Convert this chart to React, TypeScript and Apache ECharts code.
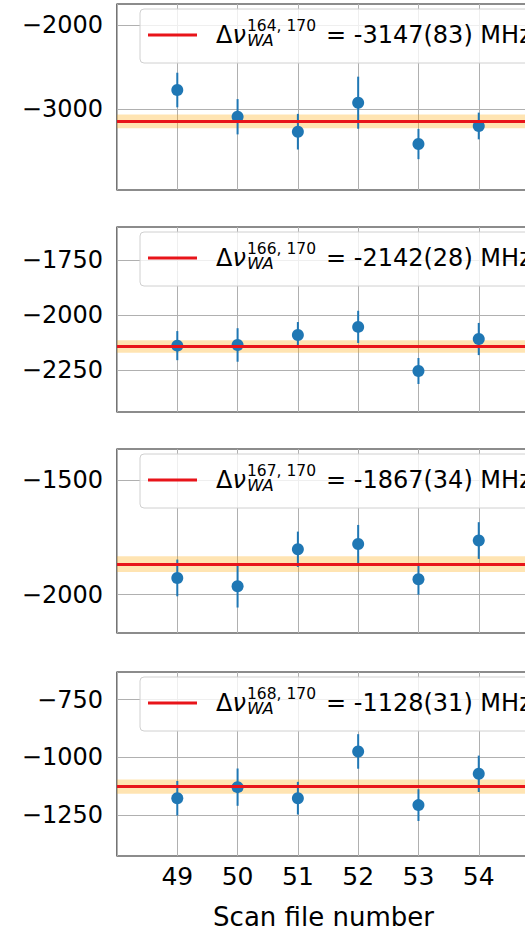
import React, { useEffect, useRef } from 'react';
import * as echarts from 'echarts';

// ---- data ----
const scans = [49, 50, 51, 52, 53, 54];
const pairLabels = ['164, 170', '166, 170', '167, 170', '168, 170'];
const meanValues = [-3147, -2142, -1867, -1128];
const meanErrors = [83, 28, 34, 31];

const shift164 = [-2774, -3092, -3270, -2925, -3417, -3202];
const err164 = [206, 210, 212, 310, 180, 159];
const shift166 = [-2138, -2135, -2090, -2053, -2253, -2108];
const err166 = [66, 76, 59, 73, 59, 73];
const shift167 = [-1927, -1963, -1802, -1779, -1933, -1764];
const err167 = [80, 93, 77, 83, 67, 80];
const shift168 = [-1178, -1130, -1178, -975, -1208, -1072];
const err168 = [75, 81, 71, 75, 69, 79];

const yMins = [-3964, -2439, -2167, -1429];
const yMaxs = [-1750, -1600, -1365, -630];
const yTicks = [
  [-3000, -2000],
  [-2250, -2000, -1750],
  [-2000, -1500],
  [-1250, -1000, -750],
];
const xMin = 48;
const xMax = 54.85;
const xTitle = 'Scan file number';
const unitText = 'MHz';

const shifts = [shift164, shift166, shift167, shift168];
const errs = [err164, err166, err167, err168];

// ---- layout ----
const panelTops = [4, 227, 449, 672];
const panelHeights = [186, 185, 184, 184];
const gridLeft = 117;
const gridWidth = 413;
const FONT = 'DejaVu Sans';
const BLUE = '#1f77b4';
const RED = '#e8141a';

export default function App() {
  const ref = useRef<HTMLDivElement>(null);

  useEffect(() => {
    if (!ref.current) return;
    const chart = echarts.init(ref.current, undefined, { renderer: 'svg' });

    const grids: any[] = [];
    const xAxes: any[] = [];
    const yAxes: any[] = [];
    const series: any[] = [];
    const graphics: any[] = [];

    for (let i = 0; i < 4; i++) {
      const top = panelTops[i];
      grids.push({
        left: gridLeft,
        top,
        width: gridWidth,
        height: panelHeights[i],
        show: true,
        borderColor: '#1a1a1a',
        borderWidth: 1.2,
        backgroundColor: '#fff',
        containLabel: false,
        outerBoundsMode: 'none',
      });
      xAxes.push({
        type: 'value',
        gridIndex: i,
        min: xMin,
        max: xMax,
        interval: 1,
        axisLine: { show: false },
        axisTick: { show: false },
        splitLine: { show: true, lineStyle: { color: '#b0b0b0', width: 1 } },
        axisLabel: {
          show: i === 3,
          showMaxLabel: false,
          showMinLabel: false,
          margin: 8,
          color: '#000',
          fontFamily: FONT,
          fontSize: 25,
          formatter: (v: number) => (Number.isInteger(v) && v > xMin ? String(v) : ''),
        },
        name: i === 3 ? xTitle : '',
        nameLocation: 'middle',
        nameGap: 48,
        nameTextStyle: { color: '#000', fontFamily: FONT, fontSize: 26 },
      });
      yAxes.push({
        type: 'value',
        gridIndex: i,
        min: yMins[i],
        max: yMaxs[i],
        axisLine: { show: false },
        axisTick: { show: false, customValues: yTicks[i] },
        splitLine: { show: true, lineStyle: { color: '#b0b0b0', width: 1 } },
        axisLabel: {
          customValues: yTicks[i],
          margin: 14,
          color: '#000',
          fontFamily: FONT,
          fontSize: 24,
          formatter: (v: number) => String(v).replace('-', '\u2212'),
        },
      });

      // mean line + band
      series.push({
        type: 'line',
        xAxisIndex: i,
        yAxisIndex: i,
        data: [[scans[0], meanValues[i]]],
        symbol: 'none',
        lineStyle: { width: 0 },
        z: 1,
        silent: true,
        markArea: {
          silent: true,
          itemStyle: { color: 'rgba(255,165,0,0.3)' },
          data: [[{ yAxis: meanValues[i] - meanErrors[i] }, { yAxis: meanValues[i] + meanErrors[i] }]],
        },
        markLine: {
          silent: true,
          symbol: ['none', 'none'],
          label: { show: false },
          lineStyle: { color: RED, width: 3, type: 'solid' },
          data: [{ yAxis: meanValues[i] }],
        },
      });

      // error bars
      series.push({
        type: 'custom',
        xAxisIndex: i,
        yAxisIndex: i,
        z: 3,
        encode: { x: 0, y: 1 },
        data: scans.map((s, k) => [s, shifts[i][k], errs[i][k]]),
        renderItem: (params: any, api: any) => {
          const x = api.value(0);
          const y = api.value(1);
          const e = api.value(2);
          const p1 = api.coord([x, y + e]);
          const p2 = api.coord([x, y - e]);
          return {
            type: 'line',
            shape: { x1: p1[0], y1: p1[1], x2: p2[0], y2: p2[1] },
            style: { stroke: BLUE, lineWidth: 2 },
          };
        },
      });

      // points
      series.push({
        type: 'scatter',
        xAxisIndex: i,
        yAxisIndex: i,
        z: 4,
        symbol: 'circle',
        symbolSize: 12,
        itemStyle: { color: BLUE, opacity: 1 },
        data: scans.map((s, k) => [s, shifts[i][k]]),
      });

      // legend (drawn as graphic for mathtext-like label)
      const ly = top + 31;
      graphics.push(
        {
          type: 'rect',
          z: 100,
          shape: { x: 140, y: top + 5, width: 420, height: 54, r: 4 },
          style: { fill: 'rgba(255,255,255,0.8)', stroke: '#d0d0d0', lineWidth: 1 },
        },
        {
          type: 'line',
          z: 101,
          shape: { x1: 148, y1: ly, x2: 197, y2: ly },
          style: { stroke: RED, lineWidth: 3 },
        },
        {
          type: 'text',
          z: 101,
          x: 216,
          y: ly,
          style: {
            text: '{a|Δ}{b|ν}',
            verticalAlign: 'middle',
            rich: {
              a: { fontFamily: FONT, fontSize: 24, fill: '#000' },
              b: { fontFamily: FONT, fontSize: 24, fontStyle: 'italic', fill: '#000' },
            },
          },
        },
        {
          type: 'text',
          z: 101,
          x: 247,
          y: ly - 9.5,
          style: {
            text: pairLabels[i],
            fontFamily: FONT,
            fontSize: 15.5,
            lineHeight: 13,
            fill: '#000',
            verticalAlign: 'middle',
          },
        },
        {
          type: 'text',
          z: 101,
          x: 247,
          y: ly + 5.5,
          style: {
            text: 'WA',
            fontFamily: FONT,
            fontSize: 16.5,
            lineHeight: 13,
            fontStyle: 'italic',
            fill: '#000',
            verticalAlign: 'middle',
          },
        },
        {
          type: 'text',
          z: 101,
          x: 326,
          y: ly,
          style: {
            text: `= ${meanValues[i]}(${meanErrors[i]}) ${unitText}`,
            fontFamily: FONT,
            fontSize: 24,
            fill: '#000',
            verticalAlign: 'middle',
          },
        }
      );
    }

    chart.setOption({
      animation: false,
      backgroundColor: '#fff',
      grid: grids,
      xAxis: xAxes,
      yAxis: yAxes,
      series,
      graphic: graphics,
    });

    return () => chart.dispose();
  }, []);

  return (
    <div style={{ position: 'fixed', left: 0, top: 0, width: 525, height: 932, overflow: 'hidden', background: '#fff' }}>
      <div ref={ref} style={{ width: 545, height: 932 }} />
    </div>
  );
}
